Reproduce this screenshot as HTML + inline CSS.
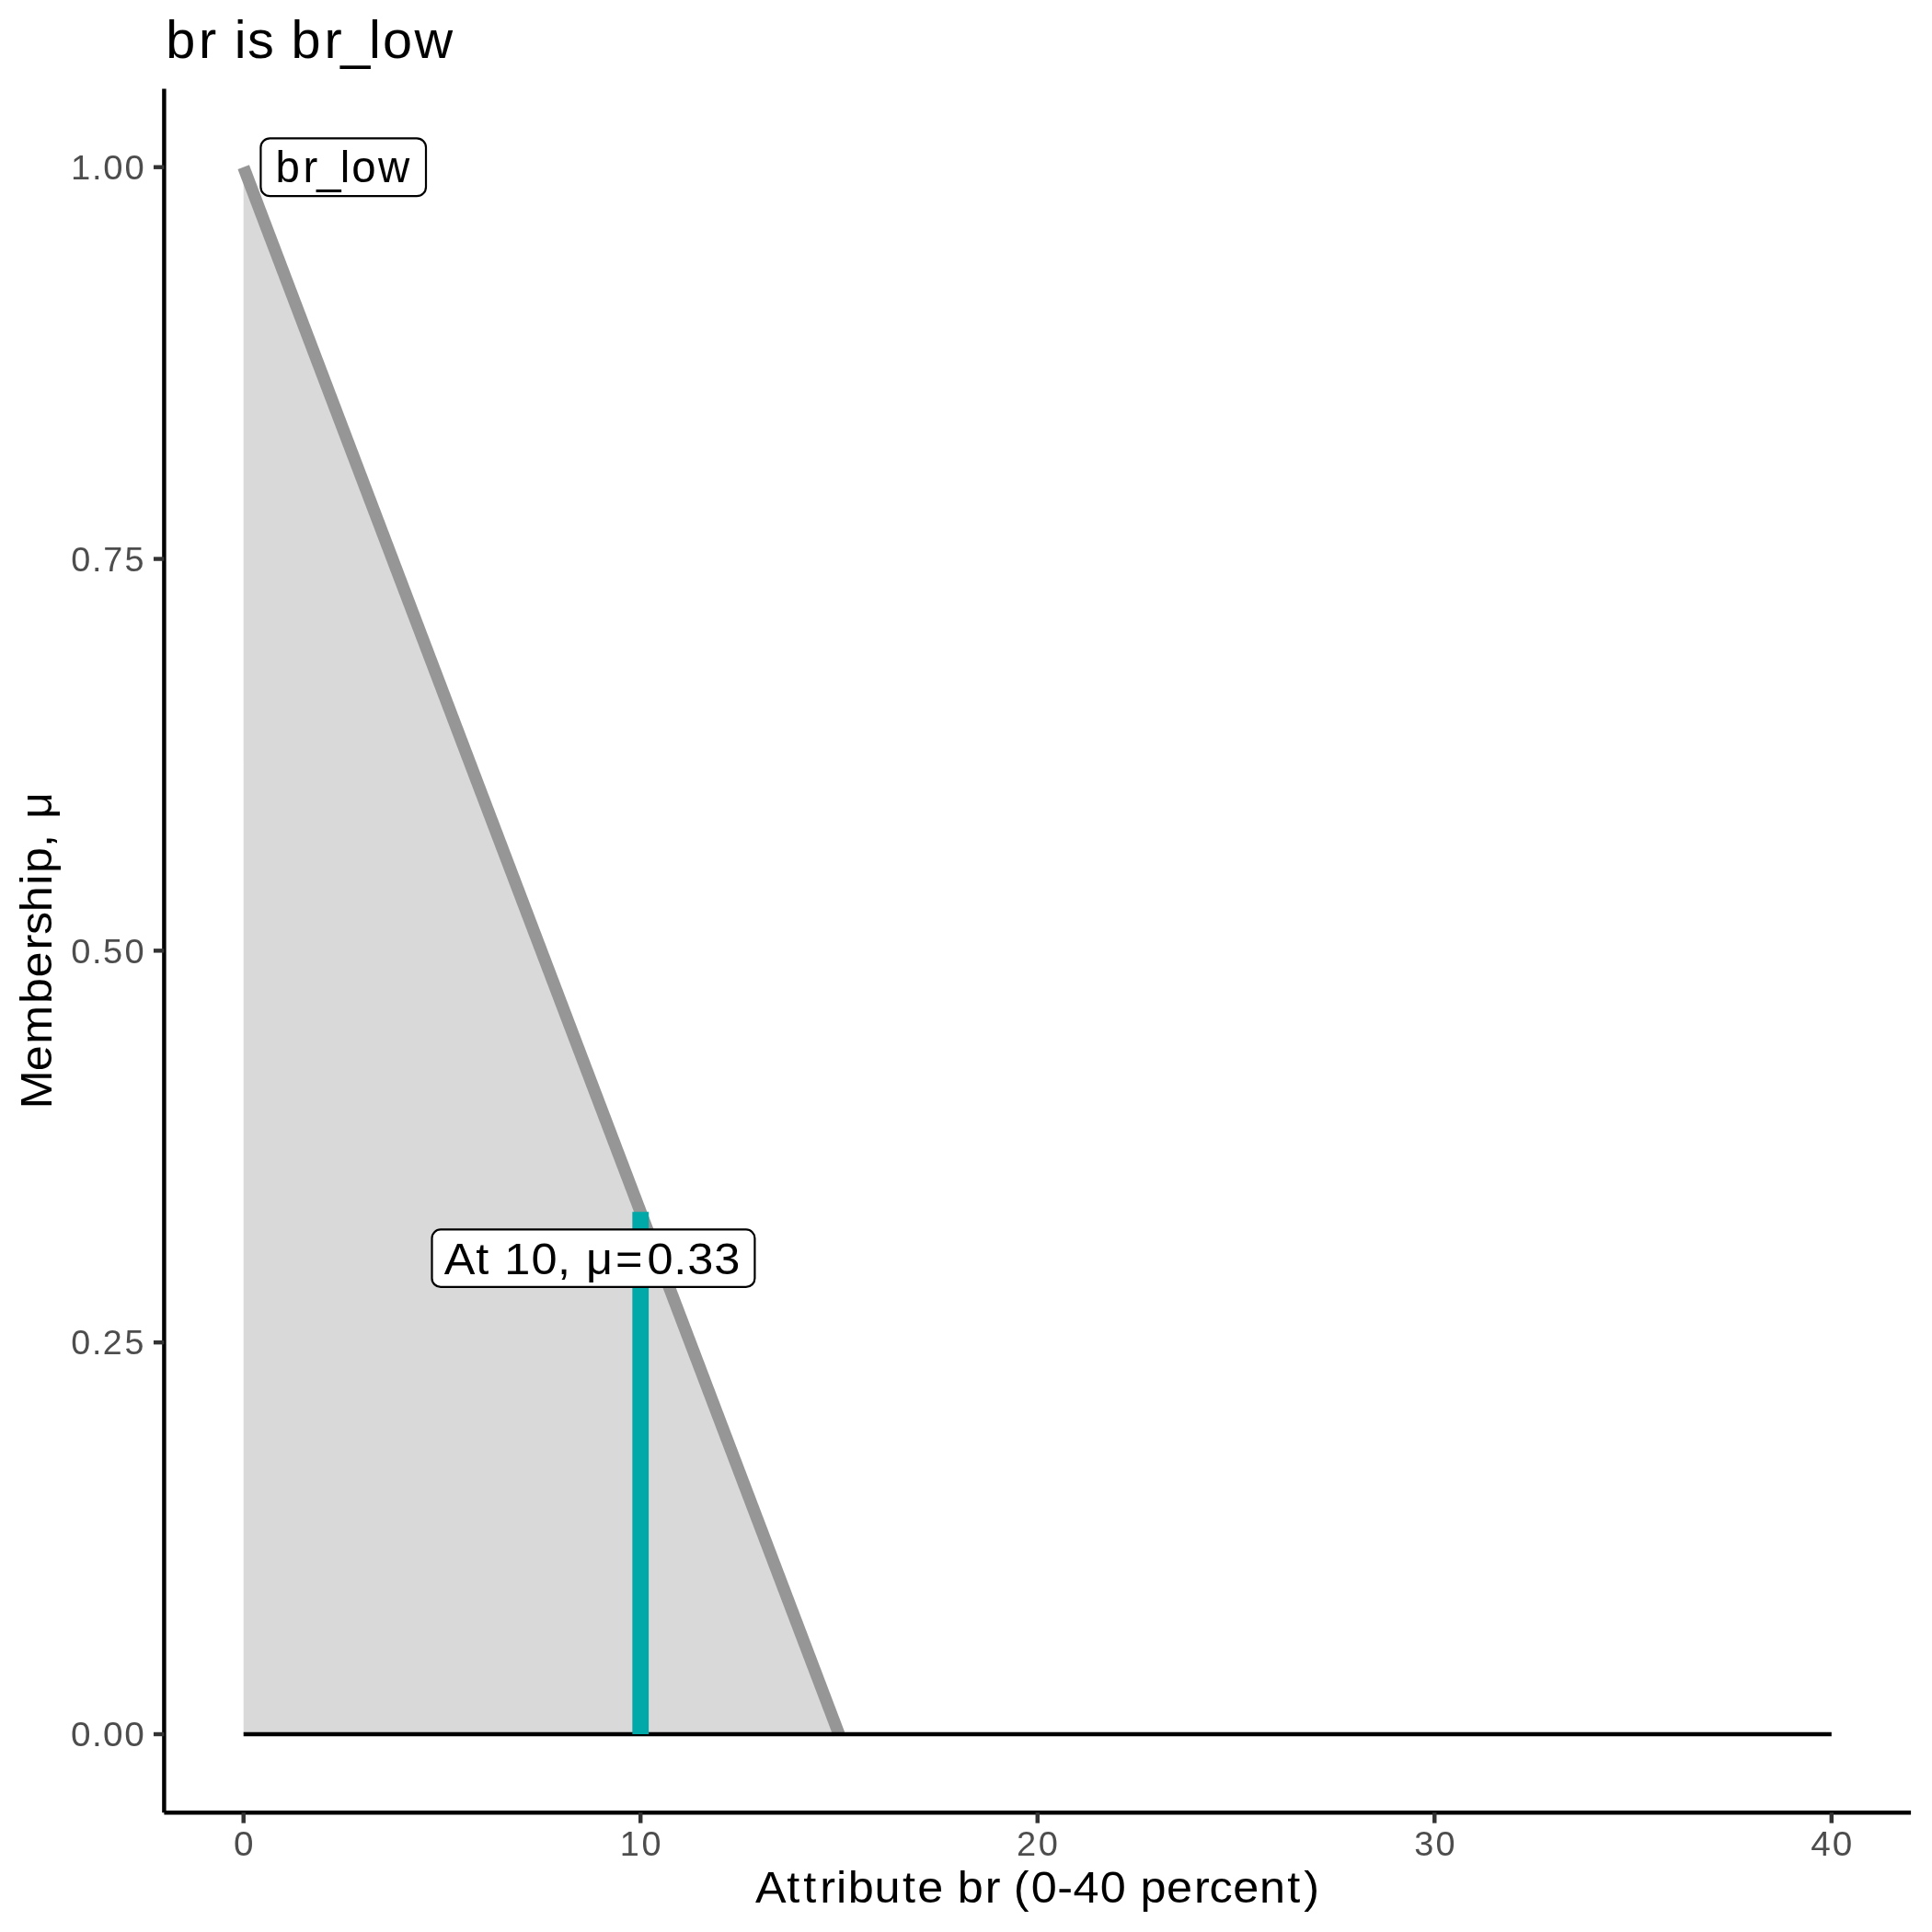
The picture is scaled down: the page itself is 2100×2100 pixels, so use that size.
<!DOCTYPE html>
<html>
<head>
<meta charset="utf-8">
<style>
html,body{margin:0;padding:0;background:#fff;}
body{width:2100px;height:2100px;overflow:hidden;}
svg{display:block;will-change:transform;}
text{font-family:"Liberation Sans", sans-serif;}
</style>
</head>
<body>
<svg width="2100" height="2100" viewBox="0 0 2100 2100">
<rect x="0" y="0" width="2100" height="2100" fill="#ffffff"/>
<polygon points="264.70,1885.00 264.70,181.70 911.99,1885.00" fill="#d9d9d9"/>
<line x1="264.70" y1="181.70" x2="911.99" y2="1885.00" stroke="#969696" stroke-width="13.3"/>
<line x1="264.70" y1="1885.00" x2="1990.80" y2="1885.00" stroke="#000" stroke-width="4.44"/>
<line x1="696.23" y1="1885.00" x2="696.23" y2="1317.23" stroke="#00a9a9" stroke-width="17.8"/>
<rect x="283.4" y="150.3" width="179.6" height="62.9" rx="10" ry="10" fill="#fff" stroke="#000" stroke-width="2.2"/>
<text transform="translate(0,198.00) scale(0.9863,1)" x="303.73 334.00 348.99 374.99 387.65 416.84" y="0 0 1.19 0 0 0" font-size="48.03" fill="#000">br_low</text>
<rect x="469.5" y="1336.4" width="350.9" height="62.5" rx="9.5" ry="9.5" fill="#fff" stroke="#000" stroke-width="2.2"/>
<text transform="translate(0,1384.90) scale(1.0506,1)" x="459.58 492.28 507.63 521.74 549.76 576.82 590.87 606.24 636.75 669.55 697.03 711.24 738.99" y="0 0 0 0 0 0 0 0 0 0 0 0 0" font-size="48.03" fill="#000">At 10, μ=0.33</text>
<line x1="178.4" y1="96.5" x2="178.4" y2="1970.2" stroke="#000" stroke-width="4.44"/>
<line x1="178.4" y1="1970.2" x2="2077.1" y2="1970.2" stroke="#000" stroke-width="4.44"/>
<g stroke="#333333" stroke-width="4.44">
<line x1="166.94" y1="1885.00" x2="178.4" y2="1885.00"/>
<line x1="166.94" y1="1459.17" x2="178.4" y2="1459.17"/>
<line x1="166.94" y1="1033.35" x2="178.4" y2="1033.35"/>
<line x1="166.94" y1="607.53" x2="178.4" y2="607.53"/>
<line x1="166.94" y1="181.70" x2="178.4" y2="181.70"/>
<line x1="264.70" y1="1970.2" x2="264.70" y2="1981.66"/>
<line x1="696.23" y1="1970.2" x2="696.23" y2="1981.66"/>
<line x1="1127.75" y1="1970.2" x2="1127.75" y2="1981.66"/>
<line x1="1559.28" y1="1970.2" x2="1559.28" y2="1981.66"/>
<line x1="1990.80" y1="1970.2" x2="1990.80" y2="1981.66"/>
</g>
<text transform="translate(0,1898.20) scale(1.0434,1)" x="73.81 95.74 107.35 129.71" y="0 0 0 0" font-size="37.11" fill="#4d4d4d">0.00</text>
<text transform="translate(0,1472.38) scale(1.0135,1)" x="76.29 98.71 110.34 133.69" y="0 0 0 0" font-size="37.11" fill="#4d4d4d">0.25</text>
<text transform="translate(0,1046.55) scale(1.0252,1)" x="75.31 97.53 109.30 132.20" y="0 0 0 0" font-size="37.11" fill="#4d4d4d">0.50</text>
<text transform="translate(0,620.73) scale(1.0180,1)" x="75.91 98.25 110.21 133.05" y="0 0 0 0" font-size="37.11" fill="#4d4d4d">0.75</text>
<text transform="translate(0,194.90) scale(1.0298,1)" x="74.74 97.06 108.90 131.55" y="0 0 0 0" font-size="37.11" fill="#4d4d4d">1.00</text>
<text transform="translate(0,2016.80) scale(1.0416,1)" x="243.79" y="0" font-size="37.11" fill="#4d4d4d">0</text>
<text transform="translate(0,2016.80) scale(1.0195,1)" x="660.99 684.05" y="0 0" font-size="37.11" fill="#4d4d4d">10</text>
<text transform="translate(0,2016.80) scale(1.0233,1)" x="1079.89 1103.16" y="0 0" font-size="37.11" fill="#4d4d4d">20</text>
<text transform="translate(0,2016.80) scale(1.0211,1)" x="1505.38 1528.18" y="0 0" font-size="37.11" fill="#4d4d4d">30</text>
<text transform="translate(0,2016.80) scale(1.0417,1)" x="1889.58 1911.97" y="0 0" font-size="37.11" fill="#4d4d4d">40</text>
<text transform="translate(0,2067.90) scale(1.0493,1)" x="782.44 815.17 832.29 849.42 866.36 878.50 905.86 934.91 950.44 977.14 991.78 1020.51 1036.70 1049.89 1068.15 1095.29 1111.70 1139.49 1166.75 1181.38 1208.52 1236.99 1252.64 1277.36 1304.64 1333.51 1350.61" y="0 0 0 0 0 0 0 0 0 0 0 0 0 0 0 0 0 0 0 0 0 0 0 0 0 0 0" font-size="48.03" fill="#000">Attribute br (0-40 percent)</text>
<text transform="translate(56.00,0) rotate(-90) scale(1.0463,1)" x="-1151.93 -1112.84 -1084.65 -1042.63 -1015.42 -986.88 -970.95 -947.30 -919.31 -907.12 -880.27 -866.19 -850.70" y="0 0 0 0 0 0 0 0 0 0 0 0 0" font-size="48.03" fill="#000">Membership, μ</text>
<text transform="translate(0,62.90) scale(0.9995,1)" x="180.27 216.19 236.03 254.79 269.12 297.48 316.75 352.68 370.36 401.28 416.14 450.65" y="0 0 0 0 0 0 0 0 1.43 0 0 0" font-size="57.64" fill="#000">br is br_low</text>
</svg>
</body>
</html>
